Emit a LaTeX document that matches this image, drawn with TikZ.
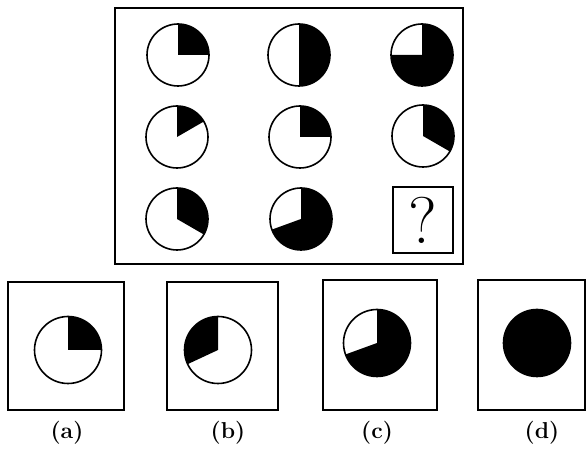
\documentclass[tikz,border=0pt]{standalone}
\usepackage{fontspec}
\begin{document}
\begin{tikzpicture}[x=1pt,y=1pt,
		frame/.style={draw,line width=2.2pt,inner sep=0pt},
		dial/.style={circle,draw,line width=1.6pt,minimum size=62pt,inner sep=0pt},
		bigdial/.style={dial,minimum size=67pt},
		tag/.style={font=\fontsize{23}{23}\selectfont\bfseries}]
		\useasboundingbox (0,0) rectangle (588,449);
		\node[frame,minimum width=348pt,minimum height=256pt] (grid) at (289,313) {};
		\node[dial] (d11) at (178,394) {};
		\node[dial] (d12) at (299,394) {};
		\node[dial] (d13) at (422,394) {};
		\node[dial] (d21) at (177,312) {};
		\node[dial] (d22) at (300,312) {};
		\node[dial] (d23) at (423,313) {};
		\node[dial] (d31) at (177,230) {};
		\node[dial] (d32) at (301,230) {};
		\node[frame,line width=1.8pt,minimum width=60pt,minimum height=66pt,font=\fontsize{66}{66}\selectfont] (ask) at (423,229) {?};
		\foreach \d/\a/\b in {d11/90/0,d12/90/-90,d13/180/450,d21/90/30,d22/90/0,d23/90/-30,d31/90/-30,d32/200/450}
			\fill (\d.center) -- ++(\a:31) arc[start angle=\a,end angle=\b,radius=31] -- cycle;
		% answer choices
		\node[frame,minimum width=116pt,minimum height=128pt] (fa) at (66,103) {};
		\node[frame,minimum width=111pt,minimum height=128pt] (fb) at (222.5,103) {};
		\node[frame,minimum width=114pt,minimum height=130pt] (fc) at (380,104) {};
		\node[frame,minimum width=107pt,minimum height=130pt] (fd) at (531.5,104) {};
		\node[bigdial] (da) at (68,99) {};
		\node[bigdial] (db) at (218,99) {};
		\node[bigdial] (dc) at (377,106) {};
		\node[bigdial,fill=black] (dd) at (537,106) {};
		\foreach \d/\a/\b in {da/90/0,db/90/205,dc/200/450}
			\fill (\d.center) -- ++(\a:33.5) arc[start angle=\a,end angle=\b,radius=33.5] -- cycle;
		\node[tag] (la) at (67,16) {(a)};
		\node[tag] (lb) at (228,16) {(b)};
		\node[tag] (lc) at (377,16) {(c)};
		\node[tag] (ld) at (542,16) {(d)};
	\end{tikzpicture}
\end{document}
